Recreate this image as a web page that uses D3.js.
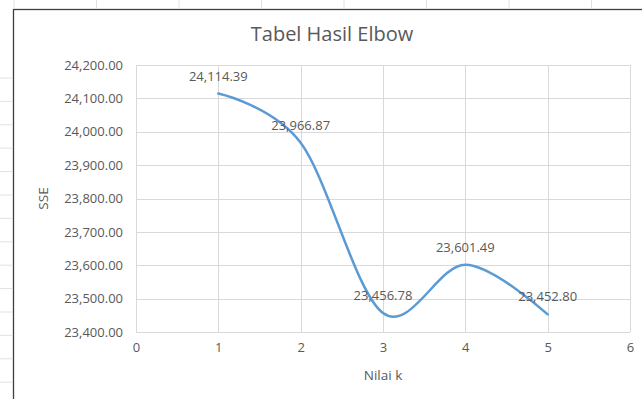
<!DOCTYPE html>
<html>
<head>
<meta charset="utf-8">
<script src="https://cdn.jsdelivr.net/npm/d3@7"></script>
<style>
  html, body { margin: 0; padding: 0; background: #ffffff; }
  svg { display: block; }
  text { font-family: "Open Sans", "Noto Sans", sans-serif; fill: #595959; }
</style>
</head>
<body>
<svg id="chart" width="642" height="399"></svg>
<script>
// Elbow method results: SSE for each k
const kValues = [1, 2, 3, 4, 5];
const sseValues = [24114.39, 23966.87, 23456.78, 23601.49, 23452.80];
const xTicks = [0, 1, 2, 3, 4, 5, 6];
const yTicks = [23400, 23500, 23600, 23700, 23800, 23900, 24000, 24100, 24200];
const chartTitle = "Tabel Hasil Elbow";
const xTitle = "Nilai k";
const yTitle = "SSE";

const W = 642, H = 399;
const plot = { left: 136, right: 630, top: 65, bottom: 332 };

const svg = d3.select("#chart");

// faint sheet cell lines peeking out around the chart frame
const sheetCols = d3.range(14, W, 82.5);
const sheetRows = d3.range(78, H, 23.4);
svg.append("g").selectAll("line").data(sheetCols).join("line")
  .attr("x1", d => d).attr("x2", d => d).attr("y1", 0).attr("y2", 8)
  .attr("stroke", "#e2e2e2").attr("stroke-width", 1);
svg.append("g").selectAll("line").data(sheetRows).join("line")
  .attr("x1", 0).attr("x2", 12).attr("y1", d => d).attr("y2", d => d)
  .attr("stroke", "#e2e2e2").attr("stroke-width", 1);

// chart frame (extends past the right and bottom edges)
svg.append("rect")
  .attr("x", 13.5).attr("y", 9.5).attr("width", W + 20).attr("height", H + 20)
  .attr("fill", "#ffffff").attr("stroke", "#3f3f3f").attr("stroke-width", 1.3);

const x = d3.scaleLinear().domain([0, 6]).range([plot.left, plot.right]);
const y = d3.scaleLinear().domain([23400, 24200]).range([plot.bottom, plot.top]);

// gridlines
const grid = svg.append("g").attr("stroke", "#d9d9d9").attr("stroke-width", 1);
grid.selectAll(".hg").data(yTicks).join("line")
  .attr("x1", plot.left).attr("x2", plot.right)
  .attr("y1", d => Math.round(y(d)) + 0.5).attr("y2", d => Math.round(y(d)) + 0.5);
grid.selectAll(".vg").data(xTicks).join("line")
  .attr("y1", plot.top).attr("y2", plot.bottom)
  .attr("x1", d => Math.round(x(d)) + 0.5).attr("x2", d => Math.round(x(d)) + 0.5);

// axes (labels only)
const fmt = d3.format(",.2f");
const yAxis = svg.append("g")
  .attr("transform", `translate(${plot.left},0)`)
  .call(d3.axisLeft(y).tickValues(yTicks).tickFormat(fmt).tickSize(0).tickPadding(13));
yAxis.select(".domain").remove();
yAxis.selectAll("text").attr("font-size", 13).attr("fill", "#595959")
  .style("font-family", '"Open Sans", sans-serif');

const xAxis = svg.append("g")
  .attr("transform", `translate(0,${plot.bottom})`)
  .call(d3.axisBottom(x).tickValues(xTicks).tickFormat(d3.format("d")).tickSize(0).tickPadding(11));
xAxis.select(".domain").remove();
xAxis.selectAll("text").attr("font-size", 13).attr("fill", "#595959")
  .style("font-family", '"Open Sans", sans-serif');

// smoothed series line
const line = d3.line()
  .x((d, i) => x(kValues[i]))
  .y(d => y(d))
  .curve(d3.curveCatmullRom.alpha(0));
svg.append("path")
  .datum(sseValues)
  .attr("d", line)
  .attr("fill", "none")
  .attr("stroke", "#5b9bd5")
  .attr("stroke-width", 2.5)
  .attr("stroke-linecap", "round");

// data labels above each point
svg.append("g").selectAll("text").data(sseValues).join("text")
  .attr("x", (d, i) => x(kValues[i]))
  .attr("y", d => y(d) - 13)
  .attr("text-anchor", "middle")
  .attr("font-size", 13)
  .attr("fill", "#404040")
  .text(d => fmt(d));

// titles
svg.append("text")
  .attr("x", 332).attr("y", 41)
  .attr("text-anchor", "middle")
  .attr("font-size", 20)
  .text(chartTitle);

svg.append("text")
  .attr("x", (plot.left + plot.right) / 2).attr("y", 380)
  .attr("text-anchor", "middle")
  .attr("font-size", 13.5)
  .text(xTitle);

svg.append("text")
  .attr("transform", `translate(48,${(plot.top + plot.bottom) / 2}) rotate(-90)`)
  .attr("text-anchor", "middle")
  .attr("font-size", 13.5)
  .text(yTitle);
</script>
</body>
</html>
